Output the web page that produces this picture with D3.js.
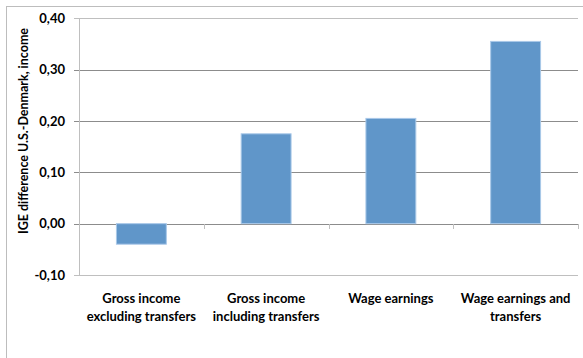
<!DOCTYPE html>
<html>
<head>
<meta charset="utf-8">
<script src="https://cdn.jsdelivr.net/npm/d3@7"></script>
<style>
  html, body { margin: 0; padding: 0; background: #fff; }
  svg { display: block; }
  text { font-family: Lato, "Open Sans", sans-serif; font-weight: bold; fill: #000; }
</style>
</head>
<body>
<svg id="chart" width="583" height="358"></svg>
<script>
// Income measures compared
const categories = [
  ["Gross income", "excluding transfers"],
  ["Gross income", "including transfers"],
  ["Wage earnings"],
  ["Wage earnings and", "transfers"]
];
// IGE difference between the U.S. and Denmark
const values = [-0.04, 0.175, 0.205, 0.355];
const yTicks = [-0.10, 0.00, 0.10, 0.20, 0.30, 0.40];
const yTitle = "IGE difference U.S.-Denmark, income";

const svg = d3.select("#chart");
const plot = { left: 79, right: 578, top: 18.3, bottom: 275 };

// outer chart frame
svg.append("rect")
  .attr("x", 6.5).attr("y", 6.5)
  .attr("width", 600).attr("height", 400)
  .attr("fill", "none").attr("stroke", "#bdbdbd").attr("stroke-width", 1);

const x = d3.scaleBand()
  .domain(d3.range(categories.length))
  .range([plot.left, plot.right])
  .paddingInner(0.6).paddingOuter(0.3);

const xBounds = d3.scaleLinear()
  .domain([0, categories.length])
  .range([plot.left, plot.right]);

const y = d3.scaleLinear()
  .domain([-0.1, 0.4])
  .range([plot.bottom, plot.top]);

const fmt = v => d3.format(".2f")(v).replace(".", ",").replace("−", "-");

// horizontal gridlines
svg.append("g")
  .selectAll("line")
  .data(yTicks)
  .join("line")
  .attr("x1", plot.left - 5).attr("x2", plot.right)
  .attr("y1", d => Math.round(y(d)) + 0.5)
  .attr("y2", d => Math.round(y(d)) + 0.5)
  .attr("stroke", d => (d === 0.4 || d === -0.1) ? "#bfbfbf" : "#8c8c8c")
  .attr("stroke-width", 1);

// y axis line
svg.append("line")
  .attr("x1", plot.left + 0.5).attr("x2", plot.left + 0.5)
  .attr("y1", Math.round(y(0.4))).attr("y2", Math.round(y(-0.1)) + 1)
  .attr("stroke", "#bfbfbf");

// y tick labels
svg.append("g")
  .selectAll("text")
  .data(yTicks)
  .join("text")
  .attr("x", plot.left - 14)
  .attr("y", d => y(d))
  .attr("dy", "0.35em")
  .attr("text-anchor", "end")
  .attr("font-size", 13)
  .text(fmt);

// category tick marks on the zero line
svg.append("g")
  .selectAll("line")
  .data(d3.range(categories.length + 1))
  .join("line")
  .attr("x1", d => Math.round(xBounds(d)) + 0.5)
  .attr("x2", d => Math.round(xBounds(d)) + 0.5)
  .attr("y1", Math.round(y(0)))
  .attr("y2", Math.round(y(0)) + 5)
  .attr("stroke", "#bfbfbf");

// bars
svg.append("g")
  .selectAll("rect")
  .data(values)
  .join("rect")
  .attr("x", (d, i) => x(i))
  .attr("width", x.bandwidth())
  .attr("y", d => y(Math.max(0, d)))
  .attr("height", d => Math.abs(y(d) - y(0)))
  .attr("fill", "#6096c9")
  .attr("stroke", "#a9c8e8")
  .attr("stroke-width", 1);

// category labels
const labels = svg.append("g")
  .selectAll("text")
  .data(categories)
  .join("text")
  .attr("text-anchor", "middle")
  .attr("font-size", 13)
  .attr("x", (d, i) => x(i) + x.bandwidth() / 2)
  .attr("y", 303);
labels.selectAll("tspan")
  .data(d => d)
  .join("tspan")
  .attr("x", function () { return d3.select(this.parentNode).attr("x"); })
  .attr("dy", (d, i) => i === 0 ? 0 : 18)
  .text(d => d);

// y axis title
svg.append("text")
  .attr("transform", "translate(28,131) rotate(-90)")
  .attr("text-anchor", "middle")
  .attr("font-size", 12.5)
  .attr("textLength", 206)
  .attr("lengthAdjust", "spacingAndGlyphs")
  .text(yTitle);
</script>
</body>
</html>
